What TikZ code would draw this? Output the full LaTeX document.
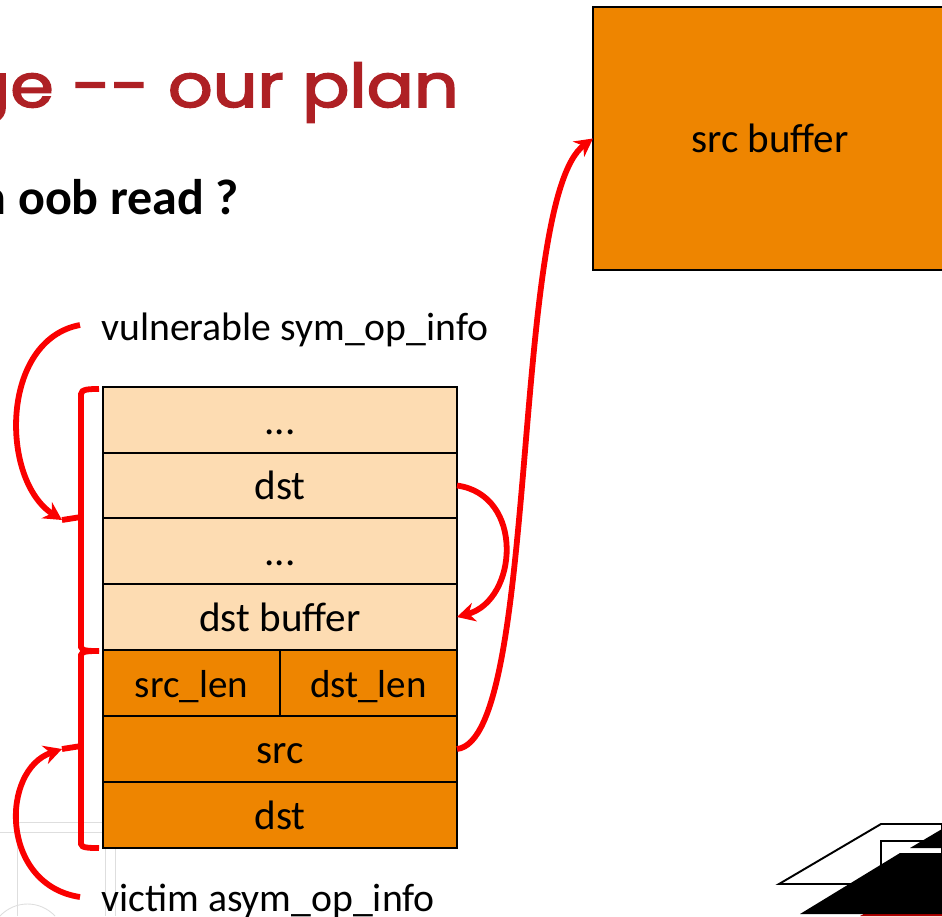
\documentclass[tikz,border=0pt]{standalone}
\usepackage{fontspec}
\usetikzlibrary{arrows.meta}
\setmainfont{Carlito}
\newfontfamily\titlefont[FakeBold=2.6]{Poppins}
\tikzset{
	cell/.style={draw=black, line width=1.1pt, minimum width=7.08cm, minimum height=1.316cm, inner sep=0pt, outer sep=0pt, text height=16pt, text depth=0pt, font=\fontsize{23.4}{28}\selectfont},
	halfcell/.style={cell, minimum width=3.54cm, font=\fontsize{22.2}{27}\selectfont},
	textlabel/.style={anchor=base west, inner sep=0pt, font=\fontsize{22.6}{27}\selectfont},
	redline/.style={draw=curvered, line width=3.3pt},
	redarrow/.style={redline, -{Stealth[length=.36cm, width=.38cm]}},
	faint/.style={draw=black!13, line width=.5pt},
}
\begin{document}
\begin{tikzpicture}[x=.02cm, y=-.02cm]
	\definecolor{lightorange}{RGB}{253, 220, 178}
	\definecolor{darkorange}{RGB}{238, 133, 0}
	\definecolor{curvered}{RGB}{250, 0, 0}
	\definecolor{titlered}{RGB}{174, 32, 36}

	\useasboundingbox (0, 0) rectangle (942, 916);
	\clip (0, 0) rectangle (942, 916);

	% logo behind the slide
	\draw[faint] (17, 916) -- (17, 822) -- (105, 822) -- (105, 916);
	\draw[faint] (0, 832) -- (115, 832) -- (115, 916);
	\draw[faint] (0, 916) .. controls (15, 900) and (40, 900) .. (55, 916);
	\draw[line width=1.1pt, fill=white] (779, 884) -- (881, 824) -- (942, 824) -- (942, 884) -- cycle;
	\draw[line width=1.1pt] (881, 870) -- (881, 841) -- (942, 841);
	\fill[curvered!70!black] (860, 916) -- (880, 905) -- (942, 905) -- (942, 916) -- cycle;
	\fill (800, 914) -- (900, 853) -- (942, 853) -- (942, 914) -- cycle;
	\fill (910, 848) -- (942, 829) -- (942, 848) -- cycle;

	% title
	\node[anchor=base east, inner sep=0pt, text=titlered, xscale=1.02, yscale=.88, transform shape, font=\titlefont\fontsize{39}{44}\selectfont] (title) at (459, 107) {ge -- our plan};
	\node[anchor=base east, inner sep=0pt, font=\bfseries\fontsize{28.5}{34}\selectfont] (question) at (239, 214) {n oob read ?};

	% memory cells
	\node[cell, fill=lightorange] (dotsa) at (280, 420) {...};
	\node[cell, fill=lightorange] (dsta) at (280, 485.5) {dst};
	\node[cell, fill=lightorange] (dotsb) at (280, 551) {...};
	\node[cell, fill=lightorange] (dstbuf) at (280, 617) {dst buffer};
	\node[halfcell, fill=darkorange] (srclen) at (191.5, 683) {src\_len};
	\node[halfcell, fill=darkorange] (dstlen) at (368.5, 683) {dst\_len};
	\node[cell, fill=darkorange] (src) at (280, 749) {src};
	\node[cell, fill=darkorange] (dstb) at (280, 815) {dst};
	\node[cell, fill=darkorange, minimum width=7.08cm, minimum height=5.26cm, anchor=north west] (srcbuf) at (593, 7) {src buffer};

	% labels
	\node[textlabel] (vuln) at (101, 340) {vulnerable sym\_op\_info};
	\node[textlabel] (victim) at (101, 911) {victim asym\_op\_info};
	\coordinate (vulntail) at (80, 325);
	\coordinate (victimtail) at (80, 897);
	\coordinate (vulntip) at (62, 520);
	\coordinate (victimtip) at (62, 749);

	% brackets
	\draw[redline] (99, 389) .. controls (90, 389) and (81, 389) .. (81, 394) -- (81, 517) -- (vulntip);
	\draw[redline] (81, 517) -- (81, 647) .. controls (81, 651) and (90, 651) .. (99, 651);
	\draw[redline] (99, 651) .. controls (90, 651) and (81, 651) .. (81, 655) -- (81, 746) -- (victimtip);
	\draw[redline] (81, 746) -- (81, 844) .. controls (81, 848) and (90, 848) .. (99, 848);

	% arrows
	\draw[redarrow] (vulntail) .. controls (0, 340) and (0, 480) .. (vulntip);
	\draw[redarrow] (victimtail) .. controls (0, 885) and (0, 770) .. (victimtip);
	\draw[redarrow] (dsta.east) .. controls (525, 495) and (518, 600) .. (dstbuf.east);
	\draw[redarrow] (src.east) .. controls (540, 740) and (510, 200) .. (srcbuf.west);
\end{tikzpicture}
\end{document}
